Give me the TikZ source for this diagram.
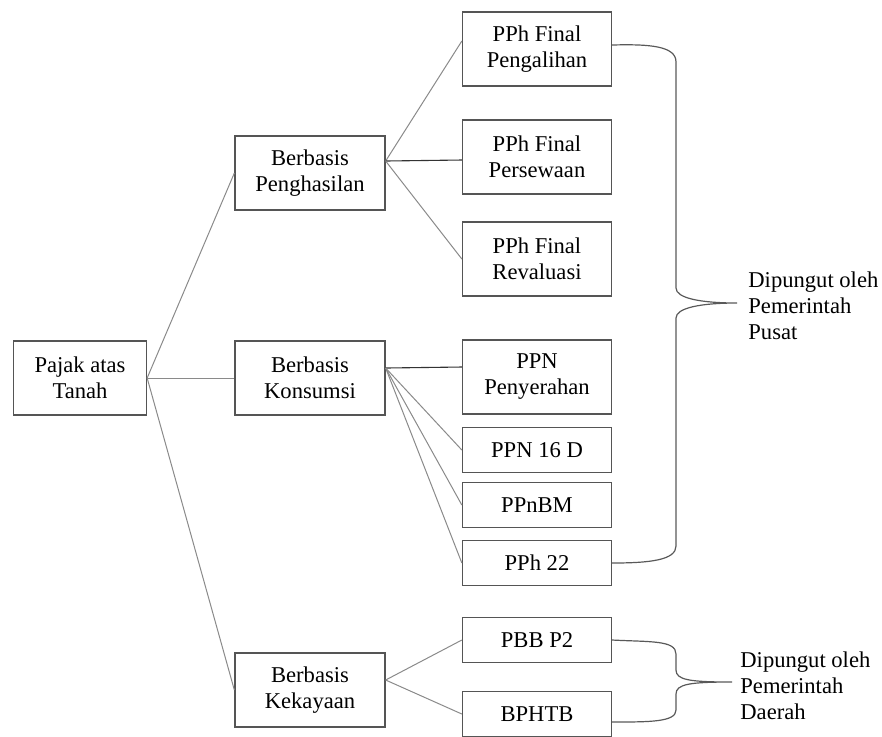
\documentclass[tikz,border=0pt]{standalone}
\usepackage{fontspec}
\setmainfont{Liberation Serif}
\usepackage{tikz}
\usetikzlibrary{positioning,calc}
\definecolor{BoxLine}{HTML}{555555}
\definecolor{LinkGray}{HTML}{8A8A8A}

\begin{document}
\begin{tikzpicture}[
  x=0.5pt, y=-0.5pt,
  font=\fontsize{11.3}{13}\selectfont,
  box/.style={draw=BoxLine, line width=0.65pt, align=center, inner sep=0pt, minimum width=75pt, minimum height=37pt},
  root/.style={box, minimum width=66.5pt},
  leaf/.style={box, minimum width=74.5pt},
  small/.style={leaf, minimum height=22.5pt},
  link/.style={draw=LinkGray, line width=0.5pt},
  strong/.style={draw=black!80, line width=0.55pt},
  brace/.style={draw=black!65, line width=0.6pt},
  note/.style={align=left, inner sep=0pt, anchor=west}
]
\useasboundingbox (0,0) rectangle (882,736);
\node[root] (tanah) at (80,378) {Pajak atas\\Tanah};
\node[box] (penghasilan) at (310,173) {Berbasis\\Penghasilan};
\node[box] (konsumsi) at (310,378) {Berbasis\\Konsumsi};
\node[box] (kekayaan) at (310,690) {Berbasis\\Kekayaan};
\node[leaf] (pengalihan) at (537,49) {PPh Final\\Pengalihan};
\node[leaf] (persewaan) at (537,157) {PPh Final\\Persewaan};
\node[leaf] (revaluasi) at (537,259) {PPh Final\\Revaluasi};
\node[leaf] (penyerahan) at (537,377) {PPN\\Penyerahan};
\node[small] (ppn16) at (537,450) {PPN 16 D};
\node[small] (ppnbm) at (537,505) {PPnBM};
\node[small] (pph22) at (537,563) {PPh 22};
\node[small] (pbb) at (537,640) {PBB P2};
\node[small] (bphtb) at (537,714) {BPHTB};
\node[note] (pusat) at (748,306) {Dipungut oleh\\Pemerintah\\Pusat};
\node[note] (daerah) at (740,686) {Dipungut oleh\\Pemerintah\\Daerah};
\coordinate (tipA) at (737,303);
\coordinate (tipB) at (732,682);
\draw[link] (tanah.east) -- (penghasilan.west);
\draw[link] (tanah.east) -- (konsumsi.west);
\draw[link] (tanah.east) -- (kekayaan.west);
\draw[link] ([yshift=6pt]penghasilan.east) -- ([yshift=4pt]pengalihan.west);
\draw[strong] ([yshift=6pt]penghasilan.east) -- ([yshift=-1.5pt]persewaan.west);
\draw[link] ([yshift=6pt]penghasilan.east) -- (revaluasi.west);
\draw[strong] ([yshift=5pt]konsumsi.east) -- ([yshift=5pt]penyerahan.west);
\draw[link] ([yshift=5pt]konsumsi.east) -- (ppn16.west);
\draw[link] ([yshift=5pt]konsumsi.east) -- (ppnbm.west);
\draw[link] ([yshift=5pt]konsumsi.east) -- (pph22.west);
\draw[link] ([yshift=5pt]kekayaan.east) -- (pbb.west);
\draw[link] ([yshift=5pt]kekayaan.east) -- (bphtb.west);
% brace for central government
\draw[brace] ([yshift=2pt]pengalihan.east) .. controls (650,44) and (676,46) .. (676,62) -- (676,288)
  .. controls (676,298) and (700,303) .. (tipA)
  .. controls (700,303) and (676,308) .. (676,318) -- (676,546)
  .. controls (676,560) and (650,563) .. (pph22.east);
% brace for regional government
\draw[brace] (pbb.east) .. controls (650,642) and (676,640) .. (676,654) -- (676,670)
  .. controls (676,680) and (690,682) .. (tipB)
  .. controls (690,682) and (676,684) .. (676,694) -- (676,710)
  .. controls (676,722) and (650,722) .. ([yshift=-4pt]bphtb.east);
\end{tikzpicture}
\end{document}
